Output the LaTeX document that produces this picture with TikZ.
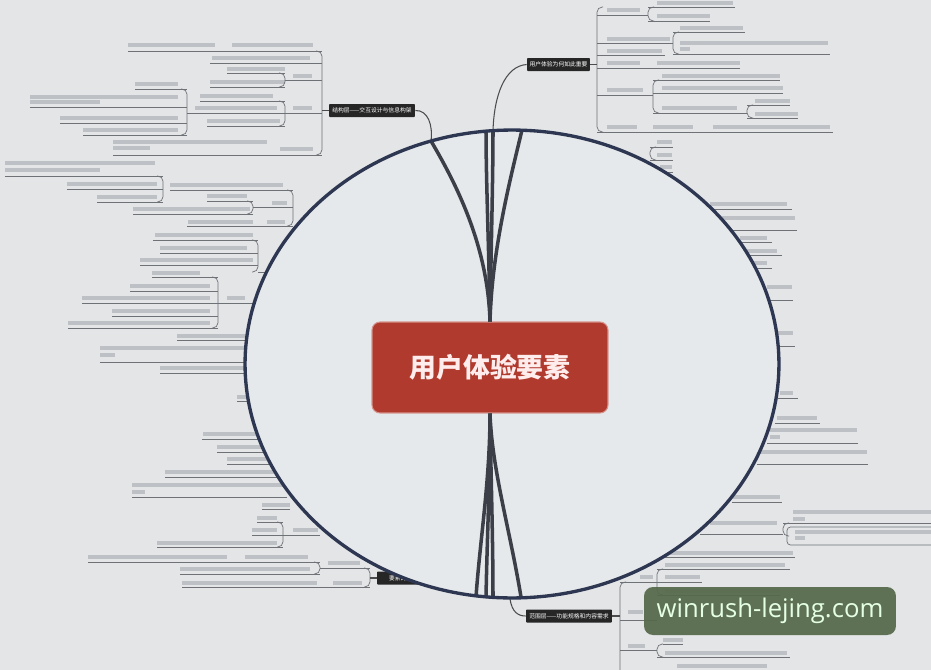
\documentclass[tikz,border=0pt]{standalone}
\usepackage{fontspec}
\newfontfamily\cjk{Noto Sans CJK SC}
\newfontfamily\wmfont{Open Sans}
\usetikzlibrary{arrows}

\definecolor{paper}{HTML}{E3E5E7}
\definecolor{lensfill}{HTML}{E6E9EC}
\definecolor{lensrim}{HTML}{2E3752}
\definecolor{stemgray}{HTML}{3C3F47}
\definecolor{corered}{HTML}{B03A2D}
\definecolor{inkgray}{HTML}{6E7176}
\definecolor{blurgray}{HTML}{BDC0C4}
\definecolor{wmgreen}{HTML}{56694A}

\tikzset{core node/.style={rectangle,rounded corners=0.16cm,fill=corered,draw=corered!55!white,line width=0.6pt,
    text=white!93!red,font=\cjk\bfseries\fontsize{15.3}{18}\selectfont,minimum width=4.72cm,minimum height=1.82cm,inner sep=0pt},
  branch node/.style={rectangle,rounded corners=0.5pt,fill=black!85,text=white,font=\cjk\fontsize{3.3}{4}\selectfont,
    minimum height=0.26cm,inner sep=1pt},
  mapline/.style={inkgray,line width=0.4pt},
  smudge/.style={fill=blurgray},
  twig/.style={draw=black!70,line width=0.6pt},
  stem line/.style={stemgray,line width=2pt},
  stamp box/.style={rectangle,rounded corners=0.18cm,fill=wmgreen,fill opacity=0.93,text opacity=1,text=white!90!green,
    font=\wmfont\fontsize{14.6}{17}\selectfont,minimum width=5.04cm,minimum height=0.96cm,inner sep=0pt}
}
\newcommand{\leaf}[3]{\draw[mapline] (#1,#3) -- (#2,#3);}
\newcommand{\tbar}[3]{\fill[smudge] (#1,#3-1.7) rectangle (#2,#3+1.7);}
\newcommand{\brl}[3]{\draw[mapline,rounded corners=3] (#1-6,#2) -- (#1,#2) -- (#1,#3) -- (#1-6,#3);}
\newcommand{\brr}[3]{\draw[mapline,rounded corners=3] (#1+6,#2) -- (#1,#2) -- (#1,#3) -- (#1+6,#3);}

\begin{document}
\begin{tikzpicture}[x=0.02cm,y=-0.02cm]
\fill[paper] (0,0) rectangle (931,670);
\useasboundingbox (0,0) rectangle (931,670);

% where the stems meet the lens rim
\coordinate (t1) at (431,141); \coordinate (t2) at (486,131);
\coordinate (t3) at (493,131); \coordinate (t4) at (522,130);
\coordinate (b1) at (476,597); \coordinate (b2) at (486,598);
\coordinate (b3) at (493,598); \coordinate (b4) at (521,597);
\coordinate (fwroot) at (510,599);
\coordinate (jghub) at (322,110.5); \coordinate (yhhub) at (597,64.5);
\coordinate (fwhub) at (620,616); \coordinate (yshub) at (370,578);

% left side of the map
\foreach \a/\b/\c in {128/322/51,210/322/63,227/285/73,210/285/87,285/322/80,187/322/113,200/285/101,207/285/126,
  135/187/89,30/187/107,60/187/123,83/187/135,113/322/155,5/163/176,67/163/189,97/163/202,170/293/190,207/253/201,
  133/253/214,253/293/207,187/293/226,153/258/240,160/258/253,140/258/265,258/268/272,152/218/277,130/218/291,
  82/218/303,112/218/316,68/218/328,218/254/303,177/250/340,100/250/362,160/250/373,237/248/401,202/263/439,
  217/267/452,227/270/464,165/278/477,132/287/497,262/290/509,257/283/522,252/283/535,157/283/547,283/320/535,
  88/320/562,180/320/574,320/370/568,182/370/587}
  {\leaf{\a}{\b}{\c}}
\foreach \a/\b/\c in {128/215/45,232/313/45,212/310/58,227/285/69,210/285/82,293/312/76,293/312/108,200/273/96,
  195/277/108,207/280/121,135/178/84,30/178/97,30/100/102,60/178/118,83/178/130,113/267/142,113/150/148,280/313/149,
  5/155/163,5/100/170,67/157/184,97/157/197,170/283/185,207/247/196,133/250/209,272/287/203,188/253/222,267/285/222,
  155/253/235,160/247/248,140/253/260,152/200/273,130/210/286,82/210/298,112/210/311,68/210/323,227/245/298,
  177/250/336,100/250/348,100/115/355,160/250/368,237/247/397,203/260/434,217/265/447,227/268/459,165/278/472,
  132/287/485,132/145/492,262/290/505,257/277/518,252/277/530,157/277/543,293/318/530,88/227/557,245/308/557,
  180/310/569,328/360/563,182/317/583,333/362/583}
  {\tbar{\a}{\b}{\c}}
\foreach \a/\b/\c in {322/51/155,285/73/87,285/101/126,187/89/135,163/176/202,293/190/226,253/201/214,
  258/240/272,218/277/328,283/522/547,320/562/574,370/568/587}
  {\brl{\a}{\b}{\c}}

% right side of the map
\foreach \a/\b/\c in {597/648/15,648/735/7,648/710/21,597/673/43,673/745/32,673/830/54,597/665/55,597/653/68,
  653/740/68,597/653/95,653/780/80,653/783/93,653/747/113,747/790/105,747/798/118,597/833/132,650/673/147,
  650/673/160,655/673/172,710/792/209,700/797/230,740/772/242,747/782/255,753/772/268,767/793/300,780/795/346,
  778/798/398,775/820/423,767/858/443,757/868/464,732/782/502,700/783/534,783/931/523,665/795/557,657/790/569,
  620/657/582,657/702/582,657/780/595,620/657/620,663/683/644,620/657/650,657/790/657,677/767/670}
  {\leaf{\a}{\b}{\c}}
\foreach \a/\b/\c in {607/640/10,657/733/3,657/710/16,607/670/39,680/743/28,680/828/43,680/690/49,607/662/51,
  607/640/63,657/740/63,607/643/90,662/780/76,662/783/88,662/737/108,755/790/101,755/798/114,607/637/127,
  653/693/127,713/830/127,657/672/142,657/672/155,660/672/167,710/787/204,720/795/218,740/767/238,747/777/251,
  753/767/263,767/792/287,778/793/333,780/793/393,777/817/418,770/857/430,770/780/437,760/867/452,733/780/497,
  710/777/523,793/931/512,793/805/519,795/931/532,795/805/538,667/793/553,665/785/565,640/653/577,665/700/577,
  665/780/591,628/643/612,663/683/640,628/645/646,665/787/653,677/767/666}
  {\tbar{\a}{\b}{\c}}
\foreach \a/\b/\c in {597/7/132,648/7/21,673/32/54,653/80/113,747/105/118,650/147/160,657/569/595,
  620/582/680,657/644/657,783/523/536}
  {\brr{\a}{\b}{\c}}
\draw[mapline,rounded corners=2] (787,527) rectangle (945,545);

% branch labels
\node[branch node,minimum width=1.72cm] (jg) at (372,110.5) {结构层——交互设计与信息构架};
\node[branch node,minimum width=1.26cm] (yh) at (558.5,64.5) {用户体验为何如此重要};
\node[branch node,minimum width=1.72cm] (fw) at (569,616) {范围层——功能规格和内容需求};
\node[branch node,minimum width=1.06cm] (ys) at (403.5,578) {要素的应用};
\draw[twig] (jg.west) -- (jghub);
\draw[twig] (yh.east) -- (yhhub);
\draw[twig] (fw.east) -- (fwhub);
\draw[twig] (ys.west) -- (yshub);
\draw[twig] (jg.east) .. controls (428,110) and (433,125) .. (t1);
\draw[twig] (yh.west) .. controls (505,66) and (494,95) .. (t3);
\draw[twig] (fwroot) .. controls (512,612) and (518,616) .. (fw.west);

% the lens
\fill[lensfill] (512,364) ellipse [x radius=5.34cm,y radius=4.68cm];
\node[core node] (core) at (490,367.5) {用户体验要素};
\draw[stem line] (core.north) .. controls (488,250) and (460,190) .. (t1);
\draw[stem line] (core.north) .. controls (489,250) and (486,180) .. (t2);
\draw[stem line] (core.north) .. controls (491,250) and (493,180) .. (t3);
\draw[stem line] (core.north) .. controls (492,250) and (510,180) .. (t4);
\draw[stem line] (core.south) .. controls (490,480) and (480,540) .. (b1);
\draw[stem line] (core.south) .. controls (490,480) and (487,540) .. (b2);
\draw[stem line] (core.south) .. controls (491,480) and (493,540) .. (b3);
\draw[stem line] (core.south) .. controls (492,470) and (510,530) .. (b4);
\draw[lensrim,line width=1.9pt] (512,364) ellipse [x radius=5.34cm,y radius=4.68cm];

\node[stamp box] (wm) at (770,611) {winrush-lejing.com};
\end{tikzpicture}
\end{document}
